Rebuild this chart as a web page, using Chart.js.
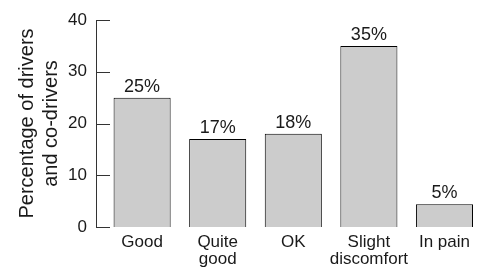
<!DOCTYPE html>
<html>
<head>
<meta charset="utf-8">
<script src="https://cdn.jsdelivr.net/npm/chart.js@4/dist/chart.umd.min.js"></script>
<style>
  html, body { margin: 0; padding: 0; background: #fff; }
  #wrap { width: 477px; height: 270px; }
</style>
</head>
<body>
<div id="wrap"><canvas id="myChart"></canvas></div>
<script>
const categories = [["Good"], ["Quite", "good"], ["OK"], ["Slight", "discomfort"], ["In pain"]];
const shares = [25, 17, 18, 35, 4.4];
const shareLabels = ["25%", "17%", "18%", "35%", "5%"];
const yTicks = [0, 10, 20, 30, 40];

const FONT = "'Liberation Sans', Arial, sans-serif";
const INK = '#1a1a1a';

// little ticks pointing into the plot, and the % labels on top of bars
const extras = {
    id: 'extras',
    afterDraw(chart) {
        const ctx = chart.ctx;
        const y = chart.scales.y;
        const left = chart.chartArea.left;
        ctx.save();
        ctx.strokeStyle = '#333';
        ctx.lineWidth = 1;
        yTicks.forEach(v => {
            const py = Math.round(y.getPixelForValue(v)) + 0.5;
            ctx.beginPath();
            ctx.moveTo(left, py);
            ctx.lineTo(left + 14, py);
            ctx.stroke();
        });
        ctx.fillStyle = INK;
        ctx.font = '18px ' + FONT;
        ctx.textAlign = 'center';
        ctx.textBaseline = 'alphabetic';
        chart.getDatasetMeta(0).data.forEach((bar, i) => {
            ctx.fillText(shareLabels[i], bar.x, bar.y - 6);
        });
        ctx.restore();
    }
};

const ctx = document.getElementById('myChart').getContext('2d');
new Chart(ctx, {
    type: 'bar',
    data: {
        datasets: [{
            data: shares.map((v, i) => ({ x: i, y: v })),
            backgroundColor: '#cccccc',
            borderColor: '#000',
            borderWidth: 1,
            barPercentage: 0.755,
            categoryPercentage: 1
        }]
    },
    options: {
        responsive: true,
        maintainAspectRatio: false,
        animation: false,
        layout: { padding: { top: 20, right: 0, left: 0, bottom: 0 } },
        plugins: { legend: { display: false }, tooltip: { enabled: false } },
        scales: {
            x: {
                type: 'linear',
                offset: false,
                min: -0.61,
                max: 4.43,
                afterBuildTicks: axis => { axis.ticks = categories.map((c, i) => ({ value: i })); },
                afterFit: axis => { axis.height = 43; },
                grid: { display: false, drawTicks: false },
                border: { display: false },
                ticks: {
                    autoSkip: false,
                    maxRotation: 0,
                    padding: 7,
                    color: INK,
                    font: { family: FONT, size: 17, lineHeight: 0.98 },
                    callback: v => categories[v]
                }
            },
            y: {
                min: 0,
                max: 40,
                afterBuildTicks: axis => { axis.ticks = yTicks.map(v => ({ value: v })); },
                afterFit: axis => { axis.width = 96; },
                grid: { display: false, drawTicks: false },
                border: { display: true, color: '#333', width: 1 },
                ticks: {
                    padding: 9,
                    color: INK,
                    font: { family: FONT, size: 17 }
                },
                title: {
                    display: true,
                    text: ['Percentage of drivers', 'and co-drivers'],
                    color: INK,
                    font: { family: FONT, size: 20, lineHeight: 1.2 },
                    padding: { top: 15, bottom: 0 }
                }
            }
        }
    },
    plugins: [extras]
});
</script>
</body>
</html>
